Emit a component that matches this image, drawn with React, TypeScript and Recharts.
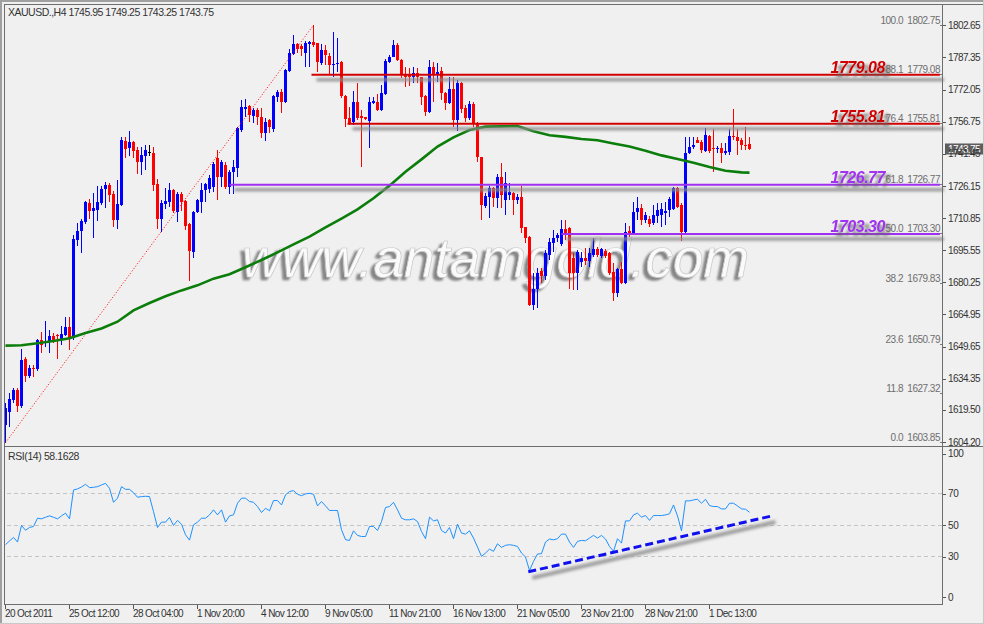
import React from 'react';
import { ComposedChart, Bar, Line, XAxis, YAxis, ReferenceLine } from 'recharts';

// XAUUSD H4, 187 bars (bar 0 = 20 Oct 2011)
const opens = [
  1612.3, 1618.7, 1624.2, 1629.0, 1621.5, 1643.6, 1635.6, 1639.6, 1639.0, 1652.8,
  1651.2, 1652.0, 1654.7, 1655.2, 1652.8, 1655.2, 1659.1, 1653.6, 1700.4, 1704.7,
  1709.0, 1718.0, 1714.2, 1714.7, 1718.0, 1724.7, 1726.8, 1722.3, 1709.9, 1717.1,
  1747.6, 1744.4, 1747.1, 1743.3, 1737.5, 1740.4, 1742.5, 1741.8, 1727.1, 1710.4,
  1717.55, 1718.7, 1724.2, 1713.7, 1722.3, 1719.0, 1708.0, 1694.9, 1713.7, 1718.7,
  1724.2, 1724.5, 1725.8, 1739.3, 1730.6, 1736.1, 1725.8, 1732.9, 1734.5, 1752.8,
  1762.6, 1764.2, 1759.6, 1762.3, 1759.1, 1751.2, 1757.55, 1753.1, 1768.7, 1771.0,
  1766.3, 1781.0, 1789.0, 1793.7, 1792.8, 1789.3, 1793.6, 1794.5, 1794.1, 1784.9,
  1790.9, 1788.0, 1783.6, 1784.1, 1785.3, 1769.0, 1758.3, 1756.8, 1766.3, 1759.5,
  1758.8, 1757.2, 1765.8, 1766.3, 1762.3, 1769.9, 1785.3, 1787.7, 1793.3, 1786.1,
  1779.0, 1778.8, 1778.2, 1779.8, 1777.9, 1769.0, 1761.5, 1782.6, 1779.0, 1781.0,
  1770.6, 1765.8, 1772.2, 1757.55, 1775.3, 1763.1, 1758.3, 1765.2, 1756.3, 1739.8,
  1716.6, 1721.0, 1725.3, 1720.3, 1730.6, 1719.5, 1721.8, 1722.6, 1719.5, 1721.0,
  1706.4, 1702.0, 1669.5, 1676.9, 1685.8, 1683.3, 1693.3, 1698.8, 1701.2, 1698.5,
  1705.5, 1706.0, 1691.7, 1684.5, 1690.1, 1692.0, 1690.6, 1693.3, 1696.0, 1692.9,
  1695.3, 1694.4, 1685.3, 1675.3, 1686.4, 1679.8, 1704.7, 1703.9, 1713.9, 1715.5,
  1709.9, 1710.3, 1708.3, 1712.0, 1712.3, 1713.4, 1714.7, 1715.2, 1725.0, 1717.1,
  1704.4, 1741.7, 1744.5, 1748.0, 1747.2, 1742.9, 1749.9, 1744.1, 1743.6, 1744.1,
  1741.7, 1742.5, 1750.0, 1749.3, 1748.0, 1745.6, 1745.95,
];
const highs = [
  1622.6, 1627.4, 1629.8, 1629.8, 1648.3, 1644.9, 1640.9, 1640.9, 1653.1, 1656.8,
  1661.8, 1657.6, 1656.3, 1655.6, 1659.5, 1663.9, 1663.9, 1702.8, 1708.7, 1710.3,
  1718.9, 1719.9, 1722.6, 1726.3, 1726.3, 1727.9, 1727.7, 1723.9, 1729.0, 1749.6,
  1749.3, 1752.3, 1747.6, 1744.9, 1744.9, 1745.5, 1745.5, 1744.9, 1729.5, 1719.5,
  1725.3, 1727.4, 1724.7, 1723.3, 1723.3, 1719.3, 1708.3, 1714.0, 1719.9, 1727.4,
  1727.7, 1731.4, 1737.7, 1743.3, 1738.5, 1737.7, 1733.8, 1738.5, 1754.4, 1767.1,
  1767.5, 1764.7, 1763.1, 1763.1, 1763.1, 1758.3, 1757.9, 1769.5, 1771.8, 1772.2,
  1781.7, 1791.2, 1798.0, 1794.4, 1793.7, 1795.3, 1795.3, 1802.75, 1794.4, 1793.7,
  1793.3, 1789.3, 1799.6, 1796.4, 1785.6, 1769.3, 1763.6, 1771.5, 1775.0, 1762.3,
  1759.1, 1768.7, 1768.7, 1769.9, 1774.2, 1786.4, 1788.5, 1795.6, 1794.4, 1786.4,
  1782.9, 1782.2, 1782.9, 1782.2, 1778.2, 1769.5, 1786.1, 1785.3, 1784.5, 1782.9,
  1771.0, 1777.9, 1778.2, 1776.6, 1775.8, 1764.7, 1766.8, 1766.3, 1756.8, 1740.1,
  1722.6, 1726.1, 1725.8, 1731.8, 1736.9, 1732.9, 1727.7, 1723.4, 1722.3, 1726.1,
  1706.8, 1702.3, 1684.5, 1686.9, 1686.9, 1695.6, 1701.2, 1705.2, 1703.6, 1709.9,
  1709.9, 1706.4, 1694.1, 1695.6, 1694.8, 1696.4, 1696.4, 1701.2, 1696.9, 1696.4,
  1696.0, 1694.8, 1689.3, 1686.9, 1690.1, 1708.3, 1707.1, 1718.7, 1720.7, 1717.55,
  1713.9, 1711.8, 1717.1, 1717.9, 1717.9, 1718.6, 1721.0, 1725.8, 1725.8, 1718.0,
  1749.6, 1749.6, 1749.6, 1749.6, 1748.0, 1753.6, 1750.4, 1753.1, 1745.2, 1746.4,
  1746.4, 1753.1, 1762.6, 1753.1, 1748.8, 1754.4, 1749.25,
];
const lows = [
  1603.85, 1611.5, 1622.6, 1618.7, 1620.2, 1633.0, 1634.5, 1635.3, 1638.2, 1646.4,
  1649.6, 1646.4, 1651.2, 1643.6, 1650.4, 1654.7, 1648.0, 1652.8, 1697.5, 1694.4,
  1708.0, 1710.3, 1701.5, 1709.5, 1717.1, 1715.8, 1718.5, 1706.6, 1705.6, 1716.6,
  1739.6, 1740.4, 1739.6, 1732.0, 1731.5, 1733.9, 1740.4, 1723.8, 1705.8, 1704.2,
  1715.2, 1716.3, 1713.1, 1709.0, 1714.2, 1705.2, 1681.0, 1691.8, 1713.1, 1713.4,
  1718.7, 1722.6, 1723.4, 1719.5, 1725.8, 1724.5, 1722.3, 1722.3, 1730.6, 1752.0,
  1759.1, 1756.8, 1756.0, 1755.2, 1748.8, 1747.7, 1751.2, 1752.0, 1766.3, 1761.0,
  1765.5, 1780.6, 1788.5, 1789.3, 1788.0, 1782.9, 1782.9, 1792.5, 1780.6, 1783.7,
  1783.7, 1779.0, 1778.2, 1780.6, 1767.9, 1754.4, 1755.2, 1755.2, 1757.55, 1735.3,
  1757.55, 1744.1, 1765.2, 1762.0, 1762.0, 1769.5, 1784.5, 1787.4, 1785.8, 1777.4,
  1773.4, 1773.7, 1775.0, 1775.0, 1764.7, 1759.5, 1760.7, 1766.3, 1775.8, 1767.1,
  1762.3, 1765.2, 1754.1, 1752.5, 1760.7, 1756.8, 1757.55, 1754.4, 1737.7, 1709.9,
  1715.5, 1710.7, 1716.3, 1715.5, 1715.5, 1712.3, 1719.5, 1712.3, 1717.55, 1703.6,
  1698.8, 1669.0, 1667.1, 1667.9, 1679.8, 1681.4, 1690.9, 1694.9, 1699.6, 1697.5,
  1700.4, 1676.9, 1676.6, 1676.6, 1687.7, 1688.5, 1687.7, 1692.5, 1692.5, 1691.7,
  1691.7, 1683.7, 1671.5, 1673.4, 1679.5, 1679.5, 1702.0, 1703.3, 1709.9, 1707.6,
  1708.3, 1706.4, 1707.6, 1708.35, 1706.7, 1707.55, 1711.5, 1714.7, 1715.6, 1700.1,
  1703.6, 1741.4, 1743.6, 1746.4, 1742.0, 1742.5, 1741.7, 1733.0, 1741.7, 1737.2,
  1740.9, 1740.9, 1748.0, 1740.9, 1743.3, 1743.3, 1743.25,
];
const closes = [
  1620.2, 1624.7, 1629.0, 1621.5, 1643.3, 1635.6, 1639.3, 1639.0, 1652.8, 1650.4,
  1652.5, 1654.7, 1652.8, 1654.7, 1655.6, 1659.1, 1653.6, 1700.9, 1704.7, 1709.5,
  1718.5, 1714.2, 1715.5, 1718.5, 1724.7, 1726.8, 1722.0, 1709.9, 1717.55, 1748.0,
  1743.9, 1747.1, 1742.9, 1737.5, 1740.9, 1743.3, 1742.5, 1726.6, 1710.4, 1718.0,
  1719.0, 1724.2, 1714.2, 1722.3, 1718.5, 1707.1, 1695.3, 1713.7, 1719.5, 1724.2,
  1727.1, 1729.8, 1736.6, 1730.6, 1737.7, 1725.8, 1732.9, 1735.3, 1753.6, 1763.6,
  1763.6, 1759.9, 1762.3, 1759.1, 1751.2, 1756.8, 1754.4, 1769.0, 1771.0, 1766.3,
  1781.4, 1789.6, 1793.7, 1791.2, 1791.2, 1794.1, 1794.5, 1793.3, 1785.3, 1790.9,
  1788.5, 1783.7, 1784.1, 1784.9, 1769.0, 1757.9, 1756.0, 1766.3, 1758.3, 1758.3,
  1757.9, 1766.3, 1766.6, 1762.3, 1770.3, 1785.8, 1787.7, 1793.3, 1786.1, 1779.0,
  1778.2, 1778.2, 1780.1, 1777.9, 1768.7, 1761.5, 1782.9, 1779.0, 1780.6, 1770.3,
  1765.8, 1772.2, 1757.55, 1775.3, 1762.6, 1758.3, 1765.2, 1756.3, 1739.8, 1717.1,
  1721.4, 1725.3, 1720.3, 1730.6, 1721.8, 1727.4, 1723.4, 1719.5, 1721.0, 1706.0,
  1701.2, 1669.5, 1676.9, 1684.8, 1683.3, 1694.1, 1699.6, 1701.2, 1702.8, 1705.5,
  1703.6, 1684.8, 1684.5, 1694.8, 1692.0, 1690.4, 1694.1, 1696.0, 1693.3, 1696.1,
  1692.9, 1684.8, 1675.3, 1686.4, 1679.8, 1704.4, 1703.9, 1713.9, 1715.5, 1709.9,
  1712.3, 1708.0, 1712.3, 1714.7, 1715.0, 1714.4, 1719.8, 1725.0, 1716.3, 1704.4,
  1741.7, 1744.9, 1745.6, 1746.7, 1743.3, 1750.4, 1742.9, 1743.6, 1744.1, 1741.7,
  1742.9, 1750.0, 1749.3, 1747.7, 1745.6, 1745.3, 1743.75,
];

// moving average, read every 4 bars: [bar, price]
const maPoints = [
  [0, 1650.1], [4, 1650.3], [8, 1651.2], [12, 1652.3], [16, 1653.6], [20, 1656.1],
  [24, 1658.3], [28, 1661.5], [32, 1666.9], [36, 1670.4], [40, 1673.6], [44, 1676.4],
  [48, 1678.8], [52, 1682.0], [56, 1684.1], [60, 1687.4], [64, 1690.9], [68, 1694.5],
  [72, 1698.3], [76, 1702.0], [80, 1706.4], [84, 1710.6], [88, 1715.0], [92, 1720.3],
  [96, 1726.3], [100, 1732.9], [104, 1738.8], [108, 1744.9], [112, 1749.3], [116, 1752.8],
  [120, 1754.4], [124, 1754.5], [128, 1754.7], [132, 1752.2], [136, 1750.3], [140, 1749.5],
  [144, 1748.5], [148, 1747.9], [152, 1746.4], [156, 1744.9], [160, 1742.9], [164, 1740.7],
  [168, 1739.0], [172, 1737.2], [176, 1735.2], [180, 1733.4], [184, 1732.6], [186, 1732.5],
];

const rsiValues = [
  37.6, 40.0, 42.2, 39.3, 49.8, 46.8, 48.5, 49.2, 54.4, 54.0,
  55.0, 55.9, 55.0, 54.0, 55.9, 57.6, 54.0, 72.3, 73.0, 74.2,
  75.9, 73.8, 74.0, 74.4, 75.5, 76.5, 73.4, 64.5, 67.1, 74.4,
  72.7, 72.7, 70.6, 67.7, 68.1, 68.3, 68.1, 58.6, 48.5, 51.9,
  51.9, 54.9, 49.8, 53.0, 50.6, 43.9, 40.5, 50.2, 51.9, 54.4,
  54.4, 56.5, 59.7, 56.5, 59.7, 51.9, 55.9, 56.5, 63.9, 67.1,
  67.1, 65.0, 64.5, 61.8, 58.0, 60.7, 59.1, 65.6, 65.6, 62.8,
  69.2, 71.3, 71.9, 69.6, 68.7, 69.8, 70.2, 69.6, 62.2, 65.0,
  62.2, 59.3, 59.3, 59.3, 47.1, 40.8, 40.3, 46.4, 43.5, 42.8,
  42.8, 49.2, 49.2, 46.6, 52.3, 61.2, 61.8, 64.5, 59.7, 54.4,
  53.4, 53.4, 54.0, 52.3, 46.0, 41.4, 55.1, 52.7, 53.4, 46.6,
  45.0, 48.5, 41.4, 50.6, 45.0, 44.3, 46.4, 41.8, 36.1, 30.2,
  32.3, 34.8, 33.4, 38.2, 35.9, 37.2, 37.6, 37.2, 36.5, 32.3,
  29.8, 21.2, 27.0, 31.7, 31.9, 39.3, 41.2, 40.7, 41.4, 44.3,
  44.3, 39.3, 35.9, 39.7, 40.3, 40.1, 41.8, 43.5, 41.8, 43.5,
  41.2, 36.5, 33.4, 41.4, 38.6, 52.7, 52.7, 56.5, 57.6, 55.1,
  56.1, 53.0, 56.1, 56.1, 56.1, 56.5, 57.2, 62.8, 55.9, 46.4,
  65.4, 65.4, 66.0, 66.4, 63.9, 66.4, 62.4, 61.8, 61.8, 60.3,
  60.3, 63.9, 63.9, 62.2, 60.3, 60.1, 58.16,
];

const priceTicks = [1604.2, 1619.5, 1634.35, 1649.65, 1664.95, 1680.25, 1695.55, 1710.85, 1726.15, 1741.45, 1756.75, 1772.05, 1787.35, 1802.65];
const rsiTicks = [0, 30, 50, 70, 100];
const rsiLevels = [30, 50, 70];
const timeTicks = [0, 16, 32, 48, 64, 80, 96, 112, 128, 144, 160, 176];
const timeLabels = ['20 Oct 2011', '25 Oct 12:00', '28 Oct 04:00', '1 Nov 20:00', '4 Nov 12:00', '9 Nov 05:00', '11 Nov 21:00', '16 Nov 13:00', '21 Nov 05:00', '23 Nov 21:00', '28 Nov 21:00', '1 Dec 13:00'];

const fibPercents = ['0.0', '11.8', '23.6', '38.2', '50.0', '61.8', '76.4', '88.1', '100.0'];
const fibPrices = [1603.85, 1627.32, 1650.79, 1679.83, 1703.3, 1726.77, 1755.81, 1779.08, 1802.75];
const fibAnchor = [{ x: 0, y: 1603.85 }, { x: 77, y: 1802.75 }];

const levelPrices = [1779.08, 1755.81, 1726.77, 1703.3];
const levelStartBars = [76.5, 85.5, 56, 139];
const levelEndBar = 233.6;
const levelColors = ['#d00000', '#d00000', '#a030f0', '#a030f0'];

const rsiTrend = [{ x: 130.7, y: 20.4 }, { x: 191.5, y: 55.8 }];

const X_DOMAIN = [-0.125, 234.125];
const FONT = "'Liberation Sans', Arial, sans-serif";
const lastClose = closes[closes.length - 1];

const priceData = opens.map((o, i) => ({
  i,
  open: o,
  high: highs[i],
  low: lows[i],
  close: closes[i],
  range: [lows[i], highs[i]],
  ma: undefined as number | undefined,
}));
maPoints.forEach(([b, v]) => { priceData[b].ma = v; });

const rsiData = rsiValues.map((v, i) => ({ i, rsi: v }));

const fmt = (v: number) => v.toFixed(2);

function Candle(props: any) {
  const { x, y, width, height, payload } = props;
  if (!payload || height == null || isNaN(y)) return null;
  const { open, high, low, close } = payload;
  const py = (p: number) => y + ((high - p) / (high - low)) * height;
  const cx = Math.floor(x + width / 2) + 0.5;
  const color = close > open ? '#0000ff' : close < open ? '#ff0000' : '#000000';
  const top = Math.round(py(Math.max(open, close)));
  const bot = Math.round(py(Math.min(open, close)));
  return (
    <g>
      <line x1={cx} x2={cx} y1={Math.round(y)} y2={Math.round(y + height)} stroke={color} strokeWidth={1} />
      <rect x={cx - 1.5} y={top} width={3} height={Math.max(1, bot - top)} fill={color} />
    </g>
  );
}

const PriceTick = (props: any) => {
  const { y, payload } = props;
  const yy = Math.round(y) + 0.5;
  return (
    <g>
      <line x1={942} x2={946} y1={yy} y2={yy} stroke="#555" />
      <text x={948} y={y + 3.6} fontSize={10} letterSpacing={-0.6} fontFamily={FONT} fill="#333">
        {fmt(payload.value)}
      </text>
    </g>
  );
};

const RsiTick = (props: any) => {
  const { y, payload } = props;
  const v = payload.value;
  const shift = v === 100 ? 7.5 : v === 0 ? -6.7 : 0;
  const yy = Math.round(y + shift) + 0.5;
  return (
    <g>
      <line x1={942} x2={946} y1={yy} y2={yy} stroke="#555" />
      <text x={948} y={y + shift + 3.6} fontSize={10} letterSpacing={-0.4} fontFamily={FONT} fill="#333">
        {v}
      </text>
    </g>
  );
};

const TimeTick = (props: any) => {
  const { x, payload } = props;
  const xx = Math.floor(x) + 0.5;
  const label = timeLabels[timeTicks.indexOf(payload.value)];
  return (
    <g>
      <line x1={xx} x2={xx} y1={160} y2={165} stroke="#555" />
      <text x={xx - 0.5} y={172.7} fontSize={10} letterSpacing={-0.6} fontFamily={FONT} fill="#333">
        {label}
      </text>
    </g>
  );
};

const fibShape = (pct: string, price: number) => (props: any) => {
  const yy = Math.floor(props.y1) + 0.5;
  return (
    <g>
      <line x1={props.x1} x2={940} y1={yy} y2={yy} stroke="#7a7a7a" strokeDasharray="3 3" />
      <text x={903} y={yy - 2} textAnchor="end" fontSize={10} letterSpacing={-0.5} fontFamily={FONT} fill="#6e6e6e">
        {pct}
      </text>
      <text x={940} y={yy - 2} textAnchor="end" fontSize={10} letterSpacing={-0.5} fontFamily={FONT} fill="#6e6e6e">
        {fmt(price)}
      </text>
    </g>
  );
};

const levelShape = (price: number, color: string) => (props: any) => {
  const { x1, x2, y1 } = props;
  const label = fmt(price);
  return (
    <g>
      <line x1={x1 + 5} x2={x2 + 4} y1={y1 + 5} y2={y1 + 5} stroke="#8c8c8c" strokeWidth={3} filter="url(#softShadow)" />
      <line x1={x1} x2={x2} y1={y1} y2={y1} stroke={color} strokeWidth={2} />
      <text x={x2 - 55} y={y1 - 1.5} textAnchor="end" fontSize={16} fontWeight="bold" fontStyle="italic"
        letterSpacing={-0.5} fontFamily={FONT} fill={color} filter="url(#labelShadow)">{label}</text>
    </g>
  );
};

const priceBoxShape = (props: any) => {
  const { y1 } = props;
  return (
    <g>
      <rect x={945} y={y1 - 5.5} width={38} height={11} fill="#5e5e5e" />
      <text x={948} y={y1 + 3.6} fontSize={10} letterSpacing={-0.6} fontFamily={FONT} fill="#ffffff">
        {fmt(lastClose)}
      </text>
    </g>
  );
};

const trendShape = (props: any) => {
  const { x1, y1, x2, y2 } = props;
  return (
    <g>
      <line x1={x1 + 4} y1={y1 + 6} x2={x2 + 4} y2={y2 + 6} stroke="#9a9a9a" strokeWidth={4} filter="url(#softShadow)" />
      <line x1={x1} y1={y1} x2={x2} y2={y2} stroke="#1010ee" strokeWidth={3} strokeDasharray="8 4" />
    </g>
  );
};

const rsiGridShape = (props: any) => {
  const yy = Math.floor(props.y1) + 0.5;
  return <line x1={props.x1} x2={props.x2} y1={yy} y2={yy} stroke="#c4c4c4" strokeDasharray="4 3" />;
};

export default function App() {
  return (
    <div style={{ position: 'absolute', left: 0, top: 0, width: 984, height: 624, background: '#f0f0f0', overflow: 'hidden' }}>
      <svg width={984} height={624} style={{ position: 'absolute', left: 0, top: 0 }}>
        <defs>
          <filter id="softShadow" filterUnits="userSpaceOnUse" x={0} y={0} width={984} height={624}>
            <feGaussianBlur stdDeviation={1.8} />
          </filter>
          <filter id="labelShadow" filterUnits="userSpaceOnUse" x={0} y={0} width={984} height={624}>
            <feGaussianBlur in="SourceAlpha" stdDeviation={1.4} result="blur" />
            <feOffset in="blur" dx={5} dy={4} result="off" />
            <feFlood floodColor="#606060" floodOpacity={0.85} result="col" />
            <feComposite in="col" in2="off" operator="in" result="shadow" />
            <feMerge>
              <feMergeNode in="shadow" />
              <feMergeNode in="SourceGraphic" />
            </feMerge>
          </filter>
          <filter id="markShadow" filterUnits="userSpaceOnUse" x={0} y={0} width={984} height={624}>
            <feGaussianBlur in="SourceAlpha" stdDeviation={1.2} result="blur" />
            <feOffset in="blur" dx={-4} dy={3} result="off" />
            <feFlood floodColor="#7a7a7a" floodOpacity={0.9} result="col" />
            <feComposite in="col" in2="off" operator="in" result="shadow" />
            <feMerge>
              <feMergeNode in="shadow" />
              <feMergeNode in="SourceGraphic" />
            </feMerge>
          </filter>
        </defs>
        <text x={8} y={15.5} fontSize={10.5} letterSpacing={-0.5} fontFamily={FONT} fill="#333">
          XAUUSD.,H4  1745.95 1749.25 1743.25 1743.75
        </text>
        <text x={242} y={277} fontSize={55} fontStyle="italic" fontFamily={FONT} fill="#fafafa" stroke="#c8c8c8"
          strokeWidth={0.7} filter="url(#markShadow)">
          www.antamgold.com
        </text>
        <text x={8} y={460} fontSize={10.5} letterSpacing={-0.4} fontFamily={FONT} fill="#333">
          RSI(14) 58.1628
        </text>
      </svg>

      <div style={{ position: 'absolute', left: 0, top: 0 }}>
        <ComposedChart width={984} height={448} data={priceData} margin={{ top: 4.5, right: 0, left: 5, bottom: 1.5 }}>
          <XAxis dataKey="i" type="number" domain={X_DOMAIN} allowDataOverflow hide />
          <YAxis
            orientation="right"
            width={42}
            type="number"
            domain={[1602.06, 1812.56]}
            allowDataOverflow
            ticks={priceTicks}
            interval={0}
            axisLine={false}
            tickLine={false}
            tick={<PriceTick />}
          />
          {fibPrices.map((p, k) => (
            <ReferenceLine key={`fib-${k}`} y={p} shape={fibShape(fibPercents[k], p)} />
          ))}
          <ReferenceLine segment={fibAnchor} stroke="#ff0000" strokeWidth={1} strokeDasharray="1 2" />
          <Line dataKey="ma" type="linear" stroke="#0b7d0b" strokeWidth={2.6} dot={false} connectNulls isAnimationActive={false} />
          <Bar dataKey="range" barSize={3} shape={Candle} isAnimationActive={false} />
          {levelPrices.map((p, k) => (
            <ReferenceLine
              key={`lvl-${k}`}
              segment={[{ x: levelStartBars[k], y: p }, { x: levelEndBar, y: p }]}
              shape={levelShape(p, levelColors[k])}
            />
          ))}
          <ReferenceLine y={lastClose} shape={priceBoxShape} />
        </ComposedChart>
      </div>

      <div style={{ position: 'absolute', left: 0, top: 444 }}>
        <ComposedChart width={984} height={180} data={rsiData} margin={{ top: 2.3, right: 0, left: 5, bottom: 0 }}>
          <XAxis
            dataKey="i"
            type="number"
            domain={X_DOMAIN}
            allowDataOverflow
            ticks={timeTicks}
            interval={0}
            height={20}
            axisLine={false}
            tickLine={false}
            tick={<TimeTick />}
          />
          <YAxis
            orientation="right"
            width={42}
            type="number"
            domain={[0, 100]}
            allowDataOverflow
            ticks={rsiTicks}
            interval={0}
            axisLine={false}
            tickLine={false}
            tick={<RsiTick />}
          />
          {rsiLevels.map((v) => (
            <ReferenceLine key={`rl-${v}`} y={v} shape={rsiGridShape} />
          ))}
          <Line dataKey="rsi" type="linear" stroke="#1e90ff" strokeWidth={1} dot={false} isAnimationActive={false} />
          <ReferenceLine segment={rsiTrend} shape={trendShape} />
        </ComposedChart>
      </div>

      <svg width={984} height={624} style={{ position: 'absolute', left: 0, top: 0, pointerEvents: 'none' }}>
        <line x1={1} x2={1} y1={0} y2={624} stroke="#a0a0a0" strokeWidth={2} />
        <line x1={0} x2={984} y1={1} y2={1} stroke="#a0a0a0" strokeWidth={2} />
        <line x1={983.5} x2={983.5} y1={0} y2={624} stroke="#c8c8c8" />
        <line x1={0} x2={984} y1={623.5} y2={623.5} stroke="#c8c8c8" />
        <rect x={4.5} y={4.5} width={938} height={442} fill="none" stroke="#6e6e6e" />
        <rect x={4.5} y={446.5} width={938} height={158} fill="none" stroke="#6e6e6e" />
        <line x1={942.5} x2={983} y1={4.5} y2={4.5} stroke="#6e6e6e" />
        <line x1={942.5} x2={983} y1={446.5} y2={446.5} stroke="#6e6e6e" />
      </svg>
    </div>
  );
}
